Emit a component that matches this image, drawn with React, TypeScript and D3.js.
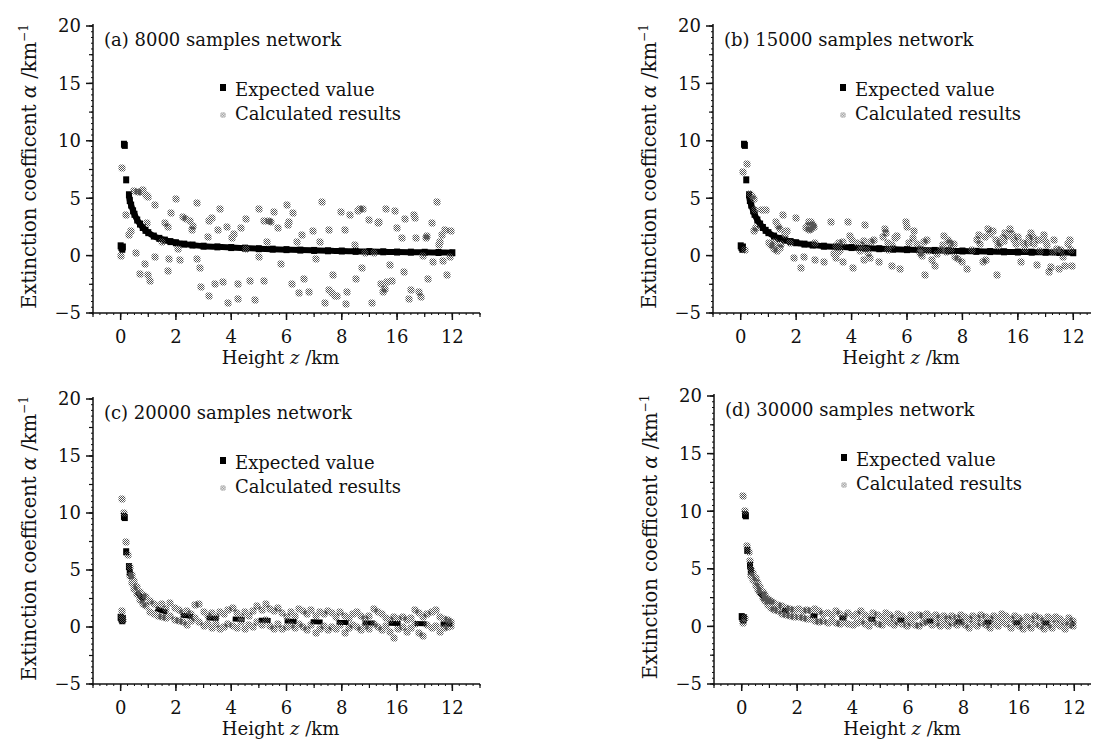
import React from "react";
import * as d3 from "d3";

// tick values / labels (the "16" typo is in the original figure)
const xTickValues = [0, 2, 4, 6, 8, 10, 12];
const xTickLabels = ["0", "2", "4", "6", "8", "16", "12"];
const yTickValues = [-5, 0, 5, 10, 15, 20];
const yTickLabels = ["\u22125", "0", "5", "10", "15", "20"];

const panelTitles = [
  "(a) 8000 samples network",
  "(b) 15000 samples network",
  "(c) 20000 samples network",
  "(d) 30000 samples network",
];

// expected value (z km, alpha km^-1)
const expected: [number, number][] = [
  [0, 0.85], [0.03, 0.7], [0.06, 0.55], [0.08, 0.75], [0.12, 9.7], [0.15, 9.6],
  [0.2, 6.6], [0.3, 5.3], [0.33, 4.8], [0.38, 4.4], [0.45, 3.9], [0.5, 3.6],
  [0.6, 3.1], [0.7, 2.75], [0.8, 2.45], [0.9, 2.2], [1.0, 2.0], [1.2, 1.7],
  [1.4, 1.5], [1.6, 1.35], [1.8, 1.22], [2.0, 1.12], [2.3, 1.0], [2.6, 0.92],
  [3.0, 0.82], [3.5, 0.76], [4.0, 0.7], [4.5, 0.65], [5.0, 0.6], [5.5, 0.56],
  [6.0, 0.52], [6.5, 0.48], [7.0, 0.45], [7.5, 0.42], [8.0, 0.4], [8.5, 0.37],
  [9.0, 0.35], [9.5, 0.33], [10.0, 0.31], [10.5, 0.3], [11.0, 0.29], [11.5, 0.27],
  [12.0, 0.25],
];

// calculated results, 8000 samples
const calcA: [number, number][] = [
  [0, 0.0], [0.05, 7.6], [0.18, 3.5], [0.3, 1.8], [0.37, 2.1], [0.5, 5.6], [0.62, 5.5], [0.75, 5.5],
  [0.8, 5.7], [0.9, 5.3], [0.95, 5.2], [1.0, 5.1], [1.25, 4.4], [0.55, 0.2], [0.7, -1.6], [0.87, -0.7],
  [1.0, -1.7], [1.06, -2.2], [0.94, 2.8], [1.25, -0.1], [1.5, 1.2], [1.6, 2.8], [1.7, 2.5], [1.76, -0.3],
  [1.7, -1.3], [1.82, 3.7], [2.0, 4.9], [2.08, 0.6], [2.15, -0.4], [2.27, 3.4], [2.35, 3.2], [2.5, 3.0],
  [2.58, 2.2], [2.6, 2.6], [2.77, 4.6], [2.77, -0.3], [2.87, -1.1], [2.9, -2.7], [3.2, -3.5], [3.2, 3.0],
  [3.3, 3.3], [3.15, 1.6], [3.4, -2.5], [3.53, 2.2], [3.6, 4.1], [3.72, -2.3], [3.9, -4.1], [3.85, 2.5],
  [4.04, 1.5], [4.1, 1.9], [4.23, -2.5], [4.23, -3.8], [4.35, 2.4], [4.54, 3.2], [4.54, 0.6], [4.67, -2.2],
  [4.86, -3.9], [5.0, 4.1], [5.0, -0.1], [5.18, -2.2], [5.2, 3.0], [5.3, 1.2], [5.37, 3.0], [5.45, 2.9],
  [5.56, 3.8], [5.7, 2.4], [5.8, -0.7], [6.0, 4.4], [6.06, 2.7], [6.1, 2.9], [6.2, -2.5], [6.25, 3.7],
  [6.37, 1.2], [6.44, -3.3], [6.57, 1.8], [6.63, -2.0], [6.8, -3.2], [6.95, 2.1], [7.08, -0.3], [7.2, 1.2],
  [7.27, 4.7], [7.4, -4.1], [7.53, 2.2], [7.53, -3.0], [7.65, -3.3], [7.7, -1.7], [7.75, -3.5], [7.84, -3.5],
  [7.96, 3.8], [8.1, 2.2], [8.15, -4.2], [8.2, -3.2], [8.28, 3.5], [8.47, 0.9], [8.53, -2.0], [8.6, 3.9],
  [8.66, 4.1], [8.75, 4.1], [8.72, -1.1], [8.85, 0.2], [8.97, 3.1], [9.1, -4.1], [9.16, 0.2], [9.3, 2.8],
  [9.35, 2.9], [9.42, -2.5], [9.48, -3.2], [9.55, -2.9], [9.6, 4.1], [9.65, -2.3], [9.73, -0.8], [9.8, -2.2],
  [9.92, 3.9], [9.99, 2.4], [10.18, 1.5], [10.24, -1.4], [10.3, 3.2], [10.43, -3.8], [10.5, -3.0], [10.6, 3.5],
  [10.65, 3.3], [10.68, 1.5], [10.8, -3.2], [10.85, -3.6], [10.94, 0.0], [11.06, 1.5], [11.1, 1.7], [11.13, -2.0],
  [11.25, 2.8], [11.3, -0.6], [11.43, 4.7], [11.5, 0.9], [11.55, 1.2], [11.63, 1.8], [11.65, -0.5], [11.75, 2.2],
  [11.8, -1.7], [11.9, -0.1], [11.95, 2.1],
];

// calculated results, 15000 samples
const calcB: [number, number][] = [
  [0.09, 7.3], [0.21, 8.0], [0.15, 0.5], [0.34, 5.4], [0.4, 5.2], [0.47, 4.9], [0.53, 4.0], [0.47, 2.1],
  [0.55, 2.4], [0.78, 4.0], [0.9, 4.0], [1.03, 1.1], [1.1, 0.9], [1.16, 0.8], [1.29, 2.9], [1.41, 2.3],
  [1.35, 2.6], [1.54, 3.5], [1.66, 2.1], [1.6, 1.8], [1.79, 1.1], [1.98, 3.3], [1.92, -0.2], [2.17, -1.1],
  [2.3, -0.1], [2.42, 2.6], [2.48, 2.9], [2.55, 2.3], [2.6, 2.7], [2.67, 1.1], [2.67, -0.4], [2.99, -0.6],
  [3.24, 2.9], [3.43, -0.2], [3.5, 0.3], [3.56, 1.1], [3.68, -0.6], [3.87, 2.9], [3.93, 1.7], [4.0, 1.4],
  [4.06, -1.1], [4.19, 1.1], [4.3, 0.4], [4.44, -0.4], [4.5, 2.7], [4.56, 0.5], [4.7, 1.2], [4.82, 1.4],
  [5.0, -0.6], [5.2, 2.3], [5.26, 2.0], [5.32, 0.5], [5.45, -0.9], [5.64, 1.7], [5.76, -1.2], [5.95, 2.9],
  [6.0, 2.5], [6.08, 1.1], [6.27, 2.1], [6.46, 0.2], [6.55, 0.0], [6.65, -1.7], [6.71, 1.4], [6.9, -0.4],
  [7.02, -0.9], [7.1, 0.1], [7.21, 0.5], [7.34, 1.7], [7.47, 1.4], [7.55, 1.1], [7.72, -0.1], [7.85, -0.3],
  [7.97, -0.6], [8.16, -1.2], [8.35, 0.5], [8.54, 1.4], [8.6, 1.8], [8.73, -0.6], [8.85, -0.4], [8.92, 2.3],
  [9.1, 2.1], [9.23, -1.7], [9.36, 1.1], [9.45, 1.5], [9.55, 2.0], [9.65, 1.7], [9.73, 2.3], [9.86, 1.4],
  [9.95, 1.0], [10.11, -0.6], [10.25, 0.6], [10.37, 1.1], [10.49, 2.0], [10.55, 1.6], [10.68, -0.8], [10.8, 0.4],
  [10.93, 1.8], [11.0, 1.2], [11.12, -1.4], [11.2, -1.0], [11.31, 1.4], [11.4, 0.6], [11.5, -1.2], [11.63, -0.1],
  [11.7, -0.9], [11.88, 1.4], [11.94, -0.9],
  [1.2, 0.6], [1.3, 0.4], [1.4, 0.7], [1.45, 1.0], [1.25, 1.2], [2.35, 2.4], [2.45, 2.2], [2.55, 2.9],
  [2.65, 2.5], [2.5, 2.6], [3.35, 0.1], [3.45, 0.8], [3.6, 0.5], [3.7, 1.2], [4.35, 0.9], [4.45, 1.3],
  [4.6, 0.2], [4.65, -0.2], [5.15, 1.6], [5.3, 1.1], [5.45, 0.9], [5.55, 1.5], [6.2, 1.5], [6.35, 1.0],
  [6.5, 0.6], [6.6, 1.2], [6.75, 0.4], [7.3, 0.9], [7.4, 0.3], [7.6, 0.6], [7.7, 1.0], [8.65, 1.0],
  [8.8, 1.6], [9.0, 1.9], [9.2, 1.4], [9.3, 0.8], [9.5, 1.3], [9.8, 1.9], [10.0, 1.6], [10.2, 1.1],
  [10.4, 1.5], [10.6, 1.0], [10.75, 1.4], [11.05, 0.9], [11.25, 0.3], [11.55, 0.5], [11.8, 1.0], [11.9, 0.5],
];

// calculated results, 20000 samples
const calcC: [number, number][] = [
  [0.06, 11.2], [0.12, 10.0], [0.2, 7.5], [0.25, 6.3], [0.06, 1.4], [0.1, 0.6], [0.06, 0.9],
  [0.35, 5.3], [0.35, 4.5], [0.42, 4.6], [0.42, 3.9], [0.5, 4.0], [0.5, 3.3], [0.6, 3.5], [0.6, 2.9],
  [0.7, 3.1], [0.7, 2.4], [0.8, 2.8], [0.8, 2.0], [0.92, 2.6], [0.92, 1.8], [1.05, 2.3], [1.05, 1.3],
  [1.2, 2.0], [1.2, 1.1], [1.35, 1.8], [1.35, 1.0], [1.5, 2.0], [1.5, 0.9], [1.65, 1.6], [1.65, 0.8],
  [1.8, 2.1], [1.8, 1.0], [1.95, 1.7], [1.95, 0.6], [2.1, 1.5], [2.1, 0.5], [2.25, 1.2], [2.25, 0.4],
  [2.4, 1.4], [2.4, 0.2], [2.55, 1.1], [2.55, 0.5], [2.7, 1.9], [2.7, 0.8], [2.85, 2.0], [2.85, 0.4],
  [3.0, 1.3], [3.0, 0.1], [3.15, 1.0], [3.15, 0.3], [3.3, 1.2], [3.3, -0.1], [3.45, 0.9], [3.45, 0.3],
  [3.6, 1.3], [3.6, -0.2], [3.75, 1.1], [3.75, 0.0], [3.9, 1.5], [3.9, 0.3], [4.05, 1.7], [4.05, 0.1],
  [4.2, 1.2], [4.2, -0.1], [4.35, 0.9], [4.35, 0.4], [4.5, 1.3], [4.5, -0.2], [4.65, 1.0], [4.65, 0.2],
  [4.8, 1.4], [4.8, 0.0], [4.95, 1.8], [4.95, 0.4], [5.1, 1.5], [5.1, 0.2], [5.25, 2.0], [5.25, 0.6],
  [5.4, 1.6], [5.4, 0.1], [5.55, 1.4], [5.55, -0.2], [5.7, 1.7], [5.7, 0.3], [5.85, 1.2], [5.85, -0.2],
  [6.0, 0.9], [6.0, 0.0], [6.15, 1.3], [6.15, 0.2], [6.3, 1.0], [6.3, -0.1], [6.45, 1.6], [6.45, 0.3],
  [6.6, 1.4], [6.6, 0.0], [6.75, 1.1], [6.75, -0.3], [6.9, 1.5], [6.9, 0.2], [7.05, 1.0], [7.05, -0.5],
  [7.2, 1.3], [7.2, -0.2], [7.35, 1.1], [7.35, 0.1], [7.5, 1.4], [7.5, -0.3], [7.65, 1.2], [7.65, 0.0],
  [7.8, 0.9], [7.8, -0.2], [7.95, 1.3], [7.95, 0.2], [8.1, 1.0], [8.1, -0.5], [8.25, 0.8], [8.25, -0.1],
  [8.4, 1.1], [8.4, 0.2], [8.55, 1.3], [8.55, 0.0], [8.7, 1.0], [8.7, -0.3], [8.85, 0.7], [8.85, 0.1],
  [9.0, 1.0], [9.0, -0.2], [9.15, 1.6], [9.15, 0.3], [9.3, 1.3], [9.3, 0.0], [9.45, 1.1], [9.45, -0.3],
  [9.6, 0.8], [9.6, 0.1], [9.75, 0.6], [9.75, -0.4], [9.9, 0.9], [9.9, -1.0], [10.05, 0.7], [10.05, -0.2],
  [10.2, 0.9], [10.2, 0.0], [10.35, 0.6], [10.35, -0.4], [10.5, 0.8], [10.5, -0.1], [10.65, 1.5], [10.65, 0.3],
  [10.8, 1.2], [10.8, -0.5], [10.95, 0.9], [10.95, -0.8], [11.1, 1.1], [11.1, 0.2], [11.25, 1.3], [11.25, -0.1],
  [11.4, 1.5], [11.4, 0.1], [11.55, 0.9], [11.55, -0.4], [11.7, 0.7], [11.7, -0.1], [11.85, 0.6], [11.85, 0.0],
  [11.95, 0.4], [11.95, 0.1],
];

// calculated results, 30000 samples
const calcD: [number, number][] = [
  [0.06, 11.3], [0.13, 10.0], [0.19, 7.0], [0.25, 6.5], [0.29, 5.7], [0.06, 0.3], [0.13, 0.7],
  [0.35, 5.0], [0.35, 4.4], [0.42, 4.6], [0.42, 4.0], [0.5, 4.2], [0.5, 3.5], [0.58, 3.8], [0.58, 3.2],
  [0.66, 3.4], [0.66, 2.9], [0.75, 3.0], [0.75, 2.5], [0.85, 2.7], [0.85, 2.2], [0.95, 2.4], [0.95, 1.9],
  [1.05, 2.2], [1.05, 1.6], [1.15, 2.0], [1.15, 1.4], [1.3, 1.9], [1.3, 1.3], [1.45, 1.8], [1.45, 1.1],
  [1.6, 1.6], [1.6, 1.0], [1.75, 1.5], [1.75, 0.9], [1.9, 1.4], [1.9, 0.8], [2.05, 1.5], [2.05, 0.8],
  [2.2, 1.3], [2.2, 0.7], [2.35, 1.4], [2.35, 0.6], [2.5, 1.3], [2.5, 0.6], [2.65, 1.5], [2.65, 0.5],
  [2.8, 1.3], [2.8, 0.4], [2.95, 1.1], [2.95, 0.5], [3.1, 1.2], [3.1, 0.3], [3.25, 1.0], [3.25, 0.5],
  [3.4, 1.3], [3.4, 0.3], [3.55, 1.1], [3.55, 0.2], [3.7, 0.9], [3.7, 0.4], [3.85, 1.2], [3.85, 0.2],
  [4.0, 0.9], [4.0, 0.1], [4.15, 1.1], [4.15, 0.3], [4.3, 1.3], [4.3, 0.5], [4.45, 1.0], [4.45, 0.2],
  [4.6, 0.8], [4.6, 0.0], [4.75, 1.2], [4.75, 0.4], [4.9, 1.0], [4.9, 0.2], [5.05, 0.8], [5.05, 0.1],
  [5.2, 1.2], [5.2, 0.5], [5.35, 1.0], [5.35, 0.3], [5.5, 0.7], [5.5, 0.1], [5.65, 1.1], [5.65, 0.4],
  [5.8, 0.9], [5.8, 0.2], [5.95, 0.6], [5.95, 0.0], [6.1, 1.0], [6.1, 0.3], [6.25, 0.8], [6.25, 0.1],
  [6.4, 1.0], [6.4, 0.0], [6.55, 0.9], [6.55, 0.3], [6.7, 1.1], [6.7, 0.4], [6.85, 0.8], [6.85, 0.1],
  [7.0, 1.0], [7.0, 0.3], [7.15, 0.7], [7.15, 0.0], [7.3, 0.9], [7.3, 0.2], [7.45, 0.6], [7.45, 0.0],
  [7.6, 0.9], [7.6, 0.3], [7.75, 0.7], [7.75, 0.1], [7.9, 1.0], [7.9, 0.4], [8.05, 0.8], [8.05, 0.1],
  [8.2, 0.6], [8.2, -0.1], [8.35, 0.9], [8.35, 0.2], [8.5, 0.7], [8.5, 0.0], [8.65, 1.0], [8.65, 0.3],
  [8.8, 0.8], [8.8, 0.1], [8.95, 0.6], [8.95, -0.1], [9.1, 0.9], [9.1, 0.2], [9.25, 0.7], [9.25, 0.0],
  [9.4, 1.1], [9.4, 0.4], [9.55, 0.9], [9.55, 0.2], [9.7, 0.6], [9.7, -0.1], [9.85, 0.9], [9.85, 0.2],
  [10.0, 0.7], [10.0, 0.0], [10.15, 0.5], [10.15, -0.2], [10.3, 0.8], [10.3, 0.1], [10.45, 0.6], [10.45, -0.1],
  [10.6, 0.9], [10.6, 0.2], [10.75, 0.7], [10.75, 0.0], [10.9, 0.5], [10.9, -0.2], [11.05, 0.8], [11.05, 0.1],
  [11.2, 0.6], [11.2, -0.1], [11.35, 0.8], [11.35, 0.2], [11.5, 0.6], [11.5, 0.0], [11.65, 0.4], [11.65, -0.2],
  [11.8, 0.7], [11.8, 0.1], [11.95, 0.5], [11.95, 0.0],
];

const calcSeries = [calcA, calcB, calcC, calcD];

// panel placement: x of y-axis, right end, y of 20 and of -5
const layout = [
  { left: 85, right: 472, top: 18, bottom: 305, dash: null },
  { left: 705, right: 1093, top: 18, bottom: 305, dash: null },
  { left: 85, right: 472, top: 391, bottom: 676, dash: "12 14" },
  { left: 706, right: 1094, top: 388, bottom: 676, dash: "7 22" },
];

const FONT = "'DejaVu Serif', 'Liberation Serif', serif";
// small octagon, filled with a halftone pattern
const markPath = "M-2,-3.5H2L3.5,-2V2L2,3.5H-2L-3.5,2V-2Z";

const Panel = ({ idx }: { idx: number }) => {
  const L = layout[idx];
  const x = d3.scaleLinear().domain([-1, 13]).range([L.left, L.right]);
  const y = d3.scaleLinear().domain([-5, 20]).range([L.bottom, L.top]);
  const line = d3
    .line<[number, number]>()
    .x((d) => x(d[0]))
    .y((d) => y(d[1]))
    .curve(d3.curveMonotoneX);
  const curvePts = expected.filter((d) => d[0] >= 0.3);
  const calc = calcSeries[idx];

  const yMinor = d3.range(-5, 20.01, 2.5);
  const yTiny = d3.range(-5, 20.01, 0.5);
  const xMinor = d3.range(-1, 13.01, 1);
  const xTiny = d3.range(-1, 13.01, 0.25);
  const yMid = (L.top + L.bottom) / 2 - 3;

  return (
    <g fontFamily={FONT} fill="#111">
      {/* axes */}
      <line x1={L.left} x2={L.left} y1={L.top - 2} y2={L.bottom} stroke="#111" strokeWidth={1.5} />
      <line x1={L.left} x2={L.right} y1={L.bottom} y2={L.bottom} stroke="#111" strokeWidth={1.5} />
      {yTiny.map((v) => (
        <line key={"yt" + v} x1={L.left - 2} x2={L.left} y1={y(v)} y2={y(v)} stroke="#111" strokeWidth={1} />
      ))}
      {yMinor.map((v) => (
        <line key={"ym" + v} x1={L.left - 4} x2={L.left} y1={y(v)} y2={y(v)} stroke="#111" strokeWidth={1.2} />
      ))}
      {yTickValues.map((v, i) => (
        <g key={"y" + v}>
          <line x1={L.left - 7} x2={L.left} y1={y(v)} y2={y(v)} stroke="#111" strokeWidth={1.5} />
          <text x={L.left - 12} y={y(v)} dy="0.36em" textAnchor="end" fontSize={18}>
            {yTickLabels[i]}
          </text>
        </g>
      ))}
      {xTiny.map((v) => (
        <line key={"xt" + v} x1={x(v)} x2={x(v)} y1={L.bottom} y2={L.bottom + 2} stroke="#111" strokeWidth={1} />
      ))}
      {xMinor.map((v) => (
        <line key={"xm" + v} x1={x(v)} x2={x(v)} y1={L.bottom} y2={L.bottom + 4} stroke="#111" strokeWidth={1.2} />
      ))}
      {xTickValues.map((v, i) => (
        <g key={"x" + v}>
          <line x1={x(v)} x2={x(v)} y1={L.bottom} y2={L.bottom + 7} stroke="#111" strokeWidth={1.5} />
          <text x={x(v)} y={L.bottom + 30} textAnchor="middle" fontSize={18}>
            {xTickLabels[i]}
          </text>
        </g>
      ))}
      {/* axis titles */}
      <text x={(L.left + L.right) / 2 - 6} y={L.bottom + 51} textAnchor="middle" fontSize={18}>
        Height <tspan fontStyle="italic">z</tspan> /km
      </text>
      <text
        transform={`translate(${L.left - 57},${yMid}) rotate(-90)`}
        textAnchor="middle"
        fontSize={19.5}
      >
        Extinction coefficent <tspan fontStyle="italic">α</tspan> /km
        <tspan fontSize={12} dy={-8}>−1</tspan>
      </text>
      {/* panel title */}
      <text x={L.left + 11} y={L.top + 20} fontSize={18}>
        {panelTitles[idx]}
      </text>
      {/* expected value */}
      <path
        d={line(curvePts) || ""}
        fill="none"
        stroke="#000"
        strokeWidth={idx < 2 ? 6 : 5}
        strokeDasharray={L.dash || undefined}
      />
      {expected
        .filter((d) => idx < 2 || d[0] < 0.35)
        .map((d, i) => (
          <rect key={"e" + i} x={x(d[0]) - 3} y={y(d[1]) - 3.5} width={6} height={7} fill="#000" />
        ))}
      {/* calculated results */}
      {calc.map((d, i) => (
        <path
          key={"c" + i}
          d={markPath}
          transform={`translate(${Math.round(x(d[0]))},${Math.round(y(d[1]))})`}
          fill="url(#halftone)"
        />
      ))}
      {/* legend */}
      <rect x={L.left + 127} y={L.top + 58} width={6} height={7} fill="#000" />
      <text x={L.left + 142} y={L.top + 70} fontSize={18}>Expected value</text>
      <path
        d={markPath}
        transform={`translate(${L.left + 130},${L.top + 89}) scale(0.8)`}
        fill="url(#halftoneLight)"
      />
      <text x={L.left + 142} y={L.top + 94} fontSize={18}>Calculated results</text>
    </g>
  );
};

const App = () => (
  <svg width={1099} height={740} style={{ display: "block", background: "#fff" }}>
    <defs>
      <pattern id="halftone" width={2} height={2} patternUnits="userSpaceOnUse">
        <rect x={0} y={0} width={1} height={1} fill="#555" />
        <rect x={1} y={1} width={1} height={1} fill="#555" />
      </pattern>
      <pattern id="halftoneLight" width={2} height={2} patternUnits="userSpaceOnUse">
        <rect x={0} y={0} width={1} height={1} fill="#888" />
        <rect x={1} y={1} width={1} height={1} fill="#888" />
      </pattern>
    </defs>
    {[0, 1, 2, 3].map((i) => (
      <Panel key={i} idx={i} />
    ))}
  </svg>
);

export default App;
